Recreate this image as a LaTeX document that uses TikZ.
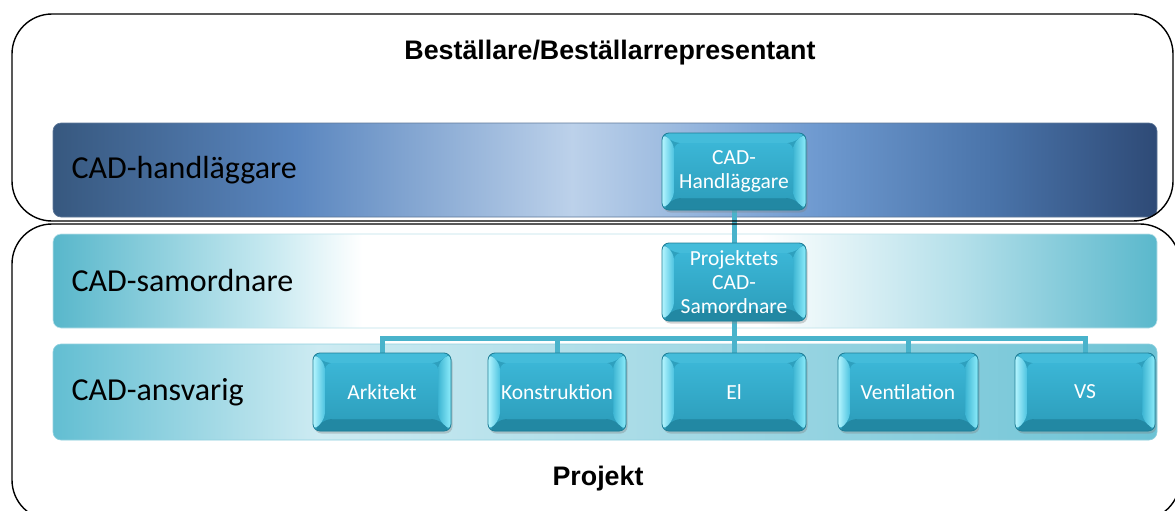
\documentclass[tikz,border=0pt]{standalone}
\usepackage{fontspec}
\setmainfont{Carlito}
\newfontfamily\titlefont{Liberation Sans}
\usetikzlibrary{calc,shadows}

\definecolor{b0}{HTML}{37587F}
\definecolor{b1}{HTML}{5A86BF}
\definecolor{b2}{HTML}{BCD1EA}
\definecolor{b3}{HTML}{6F9AD0}
\definecolor{b4}{HTML}{4A74AA}
\definecolor{b5}{HTML}{2E4A76}
\definecolor{s0}{HTML}{58B7CB}
\definecolor{s1}{HTML}{C9EAF1}
\definecolor{s2}{HTML}{FFFFFF}
\definecolor{s3}{HTML}{B5E0EA}
\definecolor{s4}{HTML}{5AB8CC}
\definecolor{a0}{HTML}{62BED2}
\definecolor{a1}{HTML}{CDEBF2}
\definecolor{a2}{HTML}{ADDDE8}
\definecolor{a3}{HTML}{6DC3D5}
\definecolor{conncol}{HTML}{49B3CB}
\definecolor{facetop}{HTML}{3BB6D6}
\definecolor{facebot}{HTML}{2EA0BE}
\definecolor{bevtopc}{HTML}{44BCDA}
\definecolor{bevbotc}{HTML}{2288A3}
\definecolor{bevl1}{HTML}{B5F5FF}
\definecolor{bevl2}{HTML}{4CC3E0}
\definecolor{bevr1}{HTML}{3DB5D3}
\definecolor{bevr2}{HTML}{8EEDFB}
\definecolor{boxborder}{HTML}{1F7E96}

\pgfdeclarehorizontalshading{blueband}{100bp}{color(0bp)=(b0); color(25bp)=(b0); color(36bp)=(b1); color(48.5bp)=(b2); color(59.5bp)=(b3); color(67.5bp)=(b4); color(75bp)=(b5); color(100bp)=(b5)}
\pgfdeclarehorizontalshading{samoband}{100bp}{color(0bp)=(s0); color(25bp)=(s0); color(35bp)=(s1); color(39bp)=(s2); color(57bp)=(s2); color(66bp)=(s3); color(75bp)=(s4); color(100bp)=(s4)}
\pgfdeclarehorizontalshading{ansvband}{100bp}{color(0bp)=(a0); color(25bp)=(a0); color(37bp)=(a1); color(50bp)=(a2); color(75bp)=(a3); color(100bp)=(a3)}

\pgfdeclarelayer{bg}
\pgfdeclarelayer{mid}
\pgfsetlayers{bg,mid,main}

\tikzset{
  outerbox/.style={draw=black, line width=1.4pt, rounded corners=40},
  band/.style={rounded corners=8, draw=#1, line width=0.6pt},
  bandlabel/.style={anchor=west, text=black, font=\fontsize{32}{36}\selectfont},
  titletext/.style={font=\titlefont\bfseries\fontsize{26.8}{30}\selectfont, text=black},
  conn/.style={draw=conncol, line width=5pt},
  tbox/.style={rounded corners=7, draw=boxborder, line width=0.8pt,
    minimum width=#1, minimum height=78, inner sep=0pt, align=center,
    text=white, font=\fontsize{21.5}{24}\selectfont,
    fill=facebot,
    drop shadow={opacity=0.35, shadow xshift=1.5pt, shadow yshift=-2.5pt},
    path picture={
      \path (path picture bounding box.north west) coordinate (@a)
            (path picture bounding box.south east) coordinate (@b);
      \path (@a -| @b) coordinate (@tr) (@b -| @a) coordinate (@bl);
      \path ($(@a)+(12,10)$) coordinate (@ia) ($(@tr)+(-13,10)$) coordinate (@itr)
            ($(@b)+(-13,-12)$) coordinate (@ib) ($(@bl)+(12,-12)$) coordinate (@ibl);
      \fill[bevtopc] (@a) -- (@tr) -- (@itr) -- (@ia) -- cycle;
      \fill[bevbotc] (@bl) -- (@b) -- (@ib) -- (@ibl) -- cycle;
      \fill[left color=bevl1, right color=bevl2] (@a) -- (@ia) -- (@ibl) -- (@bl) -- cycle;
      \fill[left color=bevr1, right color=bevr2] (@tr) -- (@itr) -- (@ib) -- (@b) -- cycle;
      \fill[top color=facetop, bottom color=facebot] (@ia) rectangle (@ib);
    }},
  tbox/.default=140
}

\begin{document}
\begin{tikzpicture}[x=1pt,y=-1pt]
\useasboundingbox (0,0) rectangle (1175,511);
\clip (0,0) rectangle (1175,511);

\begin{pgfonlayer}{bg}
\fill[white] (0,0) rectangle (1175,511);
\path[band=b0!80, shading=blueband] (53,123) rectangle (1157,217);
\path[band=s0!40!white, shading=samoband] (53,234) rectangle (1157,328);
\path[band=a0!70, shading=ansvband] (53,344) rectangle (1157,440);
\end{pgfonlayer}

\node[bandlabel] (lhand) at (68,170) {CAD-handläggare};
\node[bandlabel] (lsamo) at (68,281) {CAD-samordnare};
\node[bandlabel] (lansv) at (68,392) {CAD-ansvarig};

\coordinate (bar) at (734,338);
\node[tbox=144, minimum height=77] (hand) at (734,171.5) {CAD-\\Handläggare};
\node[tbox=144] (samo) at (734,282) {Projektets\\CAD-\\Samordnare};
\node[tbox=138] (ark) at (382,392) {Arkitekt};
\node[tbox=138] (kon) at (557,392) {Konstruktion};
\node[tbox=144] (el) at (734,392) {El};
\node[tbox=140] (ven) at (908,392) {Ventilation};
\node[tbox=140] (vs) at (1085,392) {VS};

\begin{pgfonlayer}{mid}
\draw[conn] (hand.south) -- (samo.north);
\draw[conn] (samo.south) -- (el.north);
\draw[conn] (ark.north) |- (bar -| vs.north) -- (vs.north);
\draw[conn] (bar -| kon.north) -- (kon.north);
\draw[conn] (bar -| ven.north) -- (ven.north);
\end{pgfonlayer}

\draw[outerbox] (12,14) rectangle (1173,221);
\draw[outerbox] (12,224) rectangle (1180,520);

\node[titletext] (title) at (610,53) {Beställare/Beställarrepresentant};
\node[titletext] (proj) at (598,479) {Projekt};
\end{tikzpicture}
\end{document}
